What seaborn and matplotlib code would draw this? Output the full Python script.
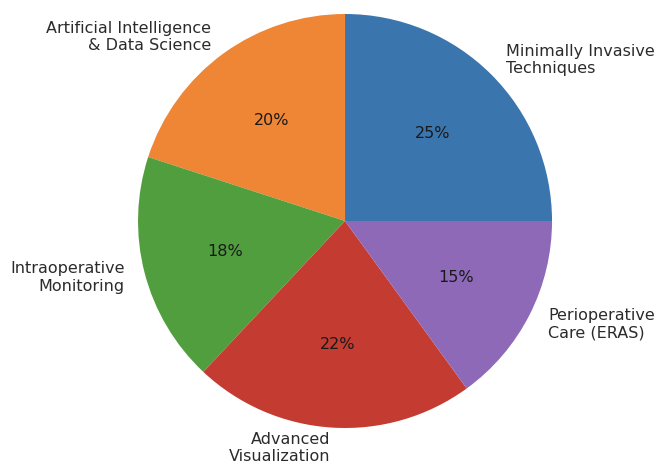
import matplotlib
matplotlib.use("Agg")
import matplotlib.pyplot as plt
import seaborn as sns

# Share of research focus by area
areas = [
    "Minimally Invasive\nTechniques",
    "Artificial Intelligence\n& Data Science",
    "Intraoperative\nMonitoring",
    "Advanced\nVisualization",
    "Perioperative\nCare (ERAS)",
]
shares = [25, 20, 18, 22, 15]
slice_colors = ["#3a75ae", "#ee8635", "#519e3e", "#c43b31", "#8d69b8"]

sns.set_theme(style="white")
plt.rcParams["font.family"] = ["DejaVu Sans"]

palette = sns.color_palette(slice_colors)

fig = plt.figure(figsize=(6.57, 4.66), dpi=100)
# square axes box: 2.5 data units across 517.5 px, centred at (345, 221) px from top-left
ax = fig.add_axes([0.1313, -0.0295, 0.7877, 1.1105])

wedges, texts, autotexts = ax.pie(
    shares,
    labels=areas,
    colors=palette,
    autopct="%1.0f%%",
    startangle=0,
    counterclock=True,
    labeldistance=1.1,
    pctdistance=0.6,
    wedgeprops={"linewidth": 0, "edgecolor": "none"},
    textprops={"fontsize": 11.5, "color": "#2b2b2b"},
)
for t in autotexts:
    t.set_color("#1a1a1a")

ax.set_xlim(-1.25, 1.25)
ax.set_ylim(-1.25, 1.25)
ax.set_aspect("equal")

fig.savefig("out.png", dpi=100)
